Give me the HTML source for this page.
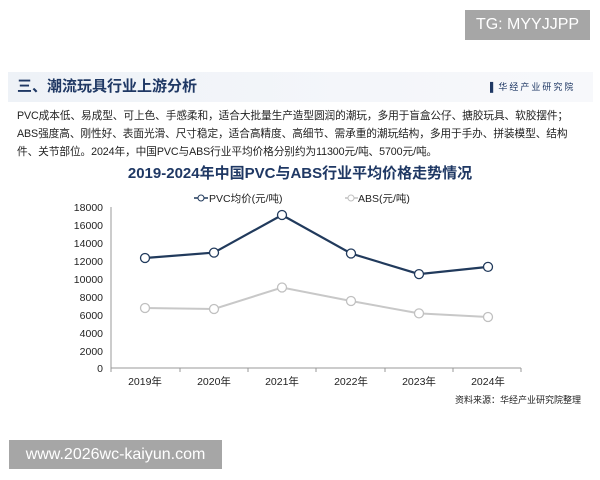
<!DOCTYPE html>
<html><head><meta charset="utf-8"><style>
body{margin:0;width:600px;height:480px;background:#fff;overflow:hidden;font-family:"Liberation Sans","Noto Sans CJK SC",sans-serif;position:relative}
.tg{position:absolute;left:465px;top:10px;width:125px;height:30px;background:#a6a6a6;color:#fff;font-size:16px;line-height:30px;text-align:center}
.ft{position:absolute;left:9px;top:440px;width:213px;height:29px;background:#a6a6a6;color:#fff;font-size:16px;line-height:29px;text-align:center}
.band{position:absolute;left:8px;top:72px;width:585px;height:30px;background:linear-gradient(90deg,#eef2f7,#f4f6fa 60%,#f7f8fb)}
.h{position:absolute;left:17px;top:75px;font-size:15px;font-weight:bold;color:#1f3864}
.logo{position:absolute;left:490px;top:80px;font-size:9px;color:#1f3864;letter-spacing:2px}
.p{position:absolute;left:17px;top:107px;width:580px;font-size:10.7px;line-height:18px;color:#222;letter-spacing:-0.1px}
.ct{position:absolute;left:0;width:600px;top:162px;text-align:center;font-size:15px;font-weight:bold;color:#1f3864}
</style></head><body>
<div class="tg">TG: MYYJJPP</div>
<div class="band"></div>
<div class="h">三、潮流玩具行业上游分析</div>
<div class="logo">▌华经产业研究院</div>
<div class="p">PVC成本低、易成型、可上色、手感柔和，适合大批量生产造型圆润的潮玩，多用于盲盒公仔、搪胶玩具、软胶摆件；<br>ABS强度高、刚性好、表面光滑、尺寸稳定，适合高精度、高细节、需承重的潮玩结构，多用于手办、拼装模型、结构<br>件、关节部位。2024年，中国PVC与ABS行业平均价格分别约为11300元/吨、5700元/吨。</div>
<div class="ct">2019-2024年中国PVC与ABS行业平均价格走势情况</div>
<svg width="600" height="480" style="position:absolute;left:0;top:0" font-family="Liberation Sans,Noto Sans CJK SC,sans-serif">
<g stroke="#999" stroke-width="1" fill="none">
<line x1="111" y1="207" x2="111" y2="368"/><line x1="111" y1="368" x2="521" y2="368"/>
<line x1="111" y1="368" x2="111" y2="372"/><line x1="180" y1="368" x2="180" y2="372"/><line x1="248" y1="368" x2="248" y2="372"/><line x1="316" y1="368" x2="316" y2="372"/><line x1="385" y1="368" x2="385" y2="372"/><line x1="453" y1="368" x2="453" y2="372"/><line x1="521" y1="368" x2="521" y2="372"/>
</g>
<g font-size="10.5" fill="#222" text-anchor="end">
<text x="103" y="211">18000</text><text x="103" y="229">16000</text><text x="103" y="247">14000</text><text x="103" y="265">12000</text><text x="103" y="283">10000</text><text x="103" y="301">8000</text><text x="103" y="319">6000</text><text x="103" y="337">4000</text><text x="103" y="355">2000</text><text x="103" y="372">0</text>
</g>
<g font-size="10.5" fill="#222" text-anchor="middle">
<text x="145" y="385">2019年</text><text x="214" y="385">2020年</text><text x="282" y="385">2021年</text><text x="351" y="385">2022年</text><text x="419" y="385">2023年</text><text x="488" y="385">2024年</text>
</g>
<polyline points="145,308 214,309 282,287.5 351,301 419,313.4 488,317" stroke="#c8c8c8" stroke-width="2" fill="none"/>
<polyline points="145,258 214,252.6 282,215 351,253.5 419,274.1 488,266.9" stroke="#213a5c" stroke-width="2.2" fill="none"/>
<g fill="#fff" stroke="#c0c0c0" stroke-width="1.3">
<circle cx="145" cy="308" r="4.5"/><circle cx="214" cy="309" r="4.5"/><circle cx="282" cy="287.5" r="4.5"/><circle cx="351" cy="301" r="4.5"/><circle cx="419" cy="313.4" r="4.5"/><circle cx="488" cy="317" r="4.5"/>
</g>
<g fill="#fff" stroke="#213a5c" stroke-width="1.3">
<circle cx="145" cy="258" r="4.5"/><circle cx="214" cy="252.6" r="4.5"/><circle cx="282" cy="215" r="4.5"/><circle cx="351" cy="253.5" r="4.5"/><circle cx="419" cy="274.1" r="4.5"/><circle cx="488" cy="266.9" r="4.5"/>
</g>
<line x1="194" y1="198" x2="208" y2="198" stroke="#213a5c" stroke-width="1.5"/><circle cx="201" cy="198" r="3" fill="#fff" stroke="#213a5c"/>
<text x="209" y="202" font-size="10.5" fill="#222">PVC均价(元/吨)</text>
<line x1="345" y1="198" x2="358" y2="198" stroke="#c0c0c0" stroke-width="1.5"/><circle cx="351" cy="198" r="3" fill="#fff" stroke="#c0c0c0"/>
<text x="358" y="202" font-size="10.5" fill="#222">ABS(元/吨)</text>
<text x="581" y="403" font-size="9" fill="#222" text-anchor="end">资料来源：华经产业研究院整理</text>
</svg>
<div class="ft">www.2026wc-kaiyun.com</div>
</body></html>
